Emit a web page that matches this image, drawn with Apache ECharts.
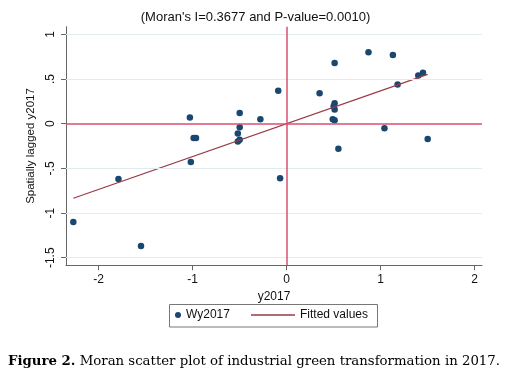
<!DOCTYPE html>
<html>
<head>
<meta charset="utf-8">
<script src="https://cdn.jsdelivr.net/npm/echarts@6/dist/echarts.min.js"></script>
<style>
  html, body { margin: 0; padding: 0; background: #fff; }
  #main { width: 511px; height: 375px; }
</style>
</head>
<body>
<div id="main"></div>
<script>
// values
var yStd = [-2.27, -1.79, -1.55, -1.03, -0.99, -0.965, -1.02, -0.50, -0.50, -0.52, -0.52, -0.50,
            -0.28, -0.09, -0.07, 0.35, 0.51, 0.50, 0.51, 0.49, 0.51, 1.04, 0.55, 0.51,
            0.87, 1.13, 1.40, 1.45, 1.18, 1.50];
var wyLag = [-1.10, -0.62, -1.37, 0.07, -0.16, -0.16, -0.43, 0.12, -0.04, -0.11, -0.20, -0.18,
             0.05, 0.37, -0.61, 0.34, 0.23, 0.195, 0.16, 0.05, 0.04, -0.05, -0.28, 0.68,
             0.80, 0.77, 0.54, 0.57, 0.44, -0.17];
var fitX = [-2.27, 1.50];
var fitY = [-0.835, 0.552];
var xTicks = [-2, -1, 0, 1, 2];
var yTicks = [-1.5, -1, -0.5, 0, 0.5, 1];
var yTickLabels = ['-1.5', '-1', '-.5', '0', '.5', '1'];

var navy = '#1a476f';
var maroon = '#9a3a45';
var pink = '#d7506e';
var font = 'Liberation Sans, Arial, sans-serif';

var points = yStd.map(function (x, i) { return [x, wyLag[i]]; });
var fitted = fitX.map(function (x, i) { return [x, fitY[i]]; });

var refLines = yTicks.filter(function (v) { return v !== 0; }).map(function (v) {
  return { yAxis: v, lineStyle: { color: '#e2ebee', width: 1, type: 'solid' } };
});
refLines.push({ yAxis: 0, lineStyle: { color: pink, width: 1.5, type: 'solid' } });
refLines.push({ xAxis: 0, lineStyle: { color: pink, width: 1.5, type: 'solid' } });

var chart = echarts.init(document.getElementById('main'));

var option = {
  backgroundColor: '#fff',
  animation: false,
  title: [
    {
      text: "(Moran's I=0.3677 and P-value=0.0010)",
      left: 'center',
      top: 11,
      padding: 0,
      textStyle: { fontFamily: font, fontSize: 13, fontWeight: 'normal', color: '#111' }
    },
    {
      text: '{b|Figure 2.} Moran scatter plot of industrial green transformation in 2017.',
      left: 8,
      top: 355,
      padding: 0,
      textStyle: {
        fontFamily: 'DejaVu Serif, serif', fontSize: 13.3, fontWeight: 'normal', color: '#000',
        rich: { b: { fontFamily: 'DejaVu Serif, serif', fontSize: 13.3, fontWeight: 'bold', color: '#000' } }
      }
    }
  ],
  grid: { left: 66, right: 29, top: 26.7, bottom: 109.7 },
  legend: [
    {
      data: [{ name: 'Wy2017', icon: 'circle' }],
      left: 175,
      top: 309,
      padding: 0,
      itemWidth: 6,
      itemHeight: 6,
      textStyle: { fontFamily: font, fontSize: 12, color: '#111' }
    },
    {
      data: [{ name: 'Fitted values', icon: 'rect' }],
      left: 251,
      top: 309,
      padding: 0,
      itemWidth: 44,
      itemHeight: 1.3,
      textStyle: { fontFamily: font, fontSize: 12, color: '#111' }
    }
  ],
  graphic: [
    {
      type: 'rect',
      shape: { x: 169.5, y: 304.5, width: 208, height: 22.5 },
      style: { fill: 'none', stroke: '#777', lineWidth: 1 }
    }
  ],
  xAxis: {
    type: 'value',
    min: -2.348,
    max: 2.078,
    name: 'y2017',
    nameLocation: 'middle',
    nameGap: 20,
    nameTextStyle: { fontFamily: font, fontSize: 12, color: '#111' },
    axisLine: { onZero: false, lineStyle: { color: '#666', width: 1 } },
    axisTick: { show: true, length: 5, customValues: xTicks, lineStyle: { color: '#666' } },
    axisLabel: { customValues: xTicks, margin: 8, fontFamily: font, fontSize: 12, color: '#111' },
    splitLine: { show: false }
  },
  yAxis: {
    type: 'value',
    min: -1.585,
    max: 1.086,
    name: 'Spatially lagged y2017',
    nameLocation: 'middle',
    nameGap: 23,
    nameTextStyle: { fontFamily: font, fontSize: 11.5, color: '#111' },
    axisLine: { show: true, onZero: false, lineStyle: { color: '#666', width: 1 } },
    axisTick: { show: true, length: 5, customValues: yTicks, lineStyle: { color: '#666' } },
    axisLabel: {
      customValues: yTicks,
      rotate: 90,
      margin: 9,
      fontFamily: font, fontSize: 12, color: '#111',
      formatter: function (v) {
        var i = yTicks.indexOf(v);
        return i >= 0 ? yTickLabels[i] : '';
      }
    },
    splitLine: { show: false }
  },
  series: [
    {
      name: 'ref',
      type: 'line',
      data: [],
      z: 1,
      silent: true,
      markLine: { silent: true, symbol: 'none', label: { show: false }, animation: false, data: refLines }
    },
    {
      name: 'Wy2017',
      type: 'scatter',
      data: points,
      symbolSize: 6.5,
      z: 3,
      itemStyle: { color: navy, opacity: 1 }
    },
    {
      name: 'Fitted values',
      type: 'line',
      data: fitted,
      symbol: 'none',
      z: 4,
      lineStyle: { color: maroon, width: 1.2 },
      itemStyle: { color: maroon }
    }
  ]
};

chart.setOption(option);
</script>
</body>
</html>
